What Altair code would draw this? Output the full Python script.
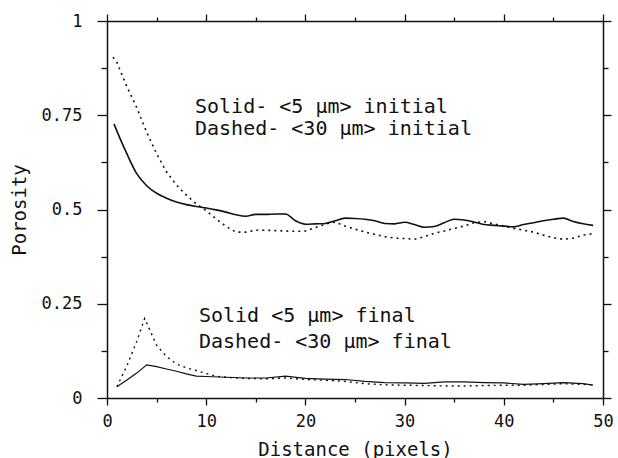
import altair as alt
import pandas as pd

# ---- data ----
solid_init_x = [0.7, 1, 2, 3, 4, 5, 6, 7, 8, 9, 10, 11, 12, 13, 14, 15, 16, 17, 18, 19, 20,
                21, 22, 23, 24, 25, 26, 27, 28, 29, 30, 31, 32, 33, 34, 35, 36, 37, 38, 39,
                40, 41, 42, 43, 44, 45, 46, 47, 48, 49]
solid_init_y = [0.727, 0.708, 0.648, 0.595, 0.563, 0.543, 0.530, 0.520, 0.513, 0.508, 0.504,
                0.499, 0.493, 0.486, 0.482, 0.487, 0.487, 0.488, 0.488, 0.470, 0.461,
                0.462, 0.463, 0.470, 0.477, 0.476, 0.474, 0.470, 0.463, 0.462, 0.466,
                0.460, 0.453, 0.455, 0.465, 0.474, 0.472, 0.467, 0.460, 0.458, 0.456,
                0.454, 0.460, 0.465, 0.470, 0.474, 0.477, 0.468, 0.462, 0.458]

dash_init_x = [0.6, 1, 2, 3, 4, 5, 6, 7, 8, 9, 10, 11, 12, 13, 14, 15, 16, 17, 18, 19, 20,
               21, 22, 23, 24, 25, 26, 27, 28, 29, 30, 31, 32, 33, 34, 35, 36, 37, 38, 39,
               40, 41, 42, 43, 44, 45, 46, 47, 48, 49]
dash_init_y = [0.904, 0.89, 0.826, 0.77, 0.705, 0.648, 0.600, 0.565, 0.538, 0.515, 0.497,
               0.475, 0.455, 0.440, 0.440, 0.445, 0.445, 0.444, 0.443, 0.442, 0.443,
               0.452, 0.461, 0.467, 0.456, 0.448, 0.440, 0.434, 0.428, 0.424, 0.423,
               0.421, 0.428, 0.437, 0.443, 0.450, 0.456, 0.465, 0.468, 0.462, 0.456,
               0.450, 0.445, 0.440, 0.432, 0.425, 0.421, 0.424, 0.432, 0.436]

solid_final_x = [1, 2, 3, 4, 5, 6, 7, 8, 9, 10, 12, 14, 16, 18, 20, 22, 24, 26, 28, 30,
                 32, 34, 36, 38, 40, 42, 44, 46, 48, 49]
solid_final_y = [0.030, 0.048, 0.066, 0.088, 0.083, 0.077, 0.071, 0.064, 0.058, 0.057,
                 0.055, 0.053, 0.053, 0.058, 0.052, 0.050, 0.049, 0.044, 0.041, 0.040,
                 0.039, 0.043, 0.043, 0.041, 0.040, 0.036, 0.038, 0.041, 0.038, 0.034]

dash_final_x = [1, 2, 3, 3.8, 5, 6, 7, 8, 9, 10, 11, 12, 14, 16, 18, 20, 22, 24, 26, 28,
                30, 32, 34, 36, 38, 40, 42, 44, 46, 48, 49]
dash_final_y = [0.030, 0.085, 0.150, 0.211, 0.140, 0.110, 0.090, 0.080, 0.073, 0.065,
                0.058, 0.055, 0.052, 0.051, 0.053, 0.049, 0.047, 0.044, 0.038, 0.035,
                0.034, 0.033, 0.032, 0.032, 0.033, 0.034, 0.034, 0.036, 0.038, 0.036, 0.035]

notes = ["Solid- <5 \u03bcm> initial", "Dashed- <30 \u03bcm> initial",
         "Solid  <5 \u03bcm> final", "Dashed- <30 \u03bcm> final"]
notes_x = [8.87, 8.87, 9.27, 9.27]
notes_y = [0.756, 0.698, 0.2016, 0.1326]

# ---- tables ----
rows = []
for name, xs, ys in [("si", solid_init_x, solid_init_y), ("di", dash_init_x, dash_init_y),
                     ("sf", solid_final_x, solid_final_y), ("df", dash_final_x, dash_final_y)]:
    for a, b in zip(xs, ys):
        rows.append({"series": name, "d": a, "p": b})
df = pd.DataFrame(rows)
tdf = pd.DataFrame({"label": notes, "d": notes_x, "p": notes_y})

FONT = "DejaVu Sans Mono"
INK = "#111111"

xscale = alt.Scale(domain=[0, 50], nice=False, zero=False)
yscale = alt.Scale(domain=[0, 1], nice=False)

xticks = list(range(0, 51, 5))
yticks = [i * 0.125 for i in range(9)]

common_axis = dict(grid=False, domainColor=INK, domainWidth=1.5, tickColor=INK,
                   tickWidth=1.3, labelFont=FONT, labelColor=INK, titleFont=FONT,
                   titleColor=INK, titleFontWeight="normal")

x_bottom = alt.Axis(values=xticks, orient="bottom", title="Distance (pixels)",
                    labelExpr="datum.value % 10 === 0 ? toString(datum.value) : ''",
                    tickSize={"condition": {"test": "datum.value % 10 !== 0", "value": 4}, "value": 7},
                    labelFontSize=17, labelPadding=8, titleFontSize=19, titlePadding=11,
                    labelFlush=False, **common_axis)
y_left = alt.Axis(values=yticks, orient="left", title="Porosity",
                  labelExpr="(datum.value * 8) % 2 === 0 ? toString(datum.value) : ''",
                  tickSize={"condition": {"test": "(datum.value * 8) % 2 !== 0", "value": 6}, "value": 10},
                  labelFontSize=17, labelPadding=15, titleFontSize=19, titlePadding=12,
                  labelFlush=False, **common_axis)
x_top = alt.Axis(values=xticks, orient="top", title=None, labels=False,
                 tickSize={"condition": {"test": "datum.value % 10 !== 0", "value": 4}, "value": 7},
                 **common_axis)
y_right = alt.Axis(values=yticks, orient="right", title=None, labels=False,
                   tickSize={"condition": {"test": "(datum.value * 8) % 2 !== 0", "value": 5}, "value": 8},
                   **common_axis)

xe = alt.X("d:Q", scale=xscale, axis=x_bottom)
ye = alt.Y("p:Q", scale=yscale, axis=y_left)

base = alt.Chart(df)
l_si = base.transform_filter("datum.series === 'si'").mark_line(color=INK, strokeWidth=1.6, interpolate="monotone").encode(x=xe, y=ye)
l_di = base.transform_filter("datum.series === 'di'").mark_line(color=INK, strokeWidth=1.6, strokeDash=[2, 4]).encode(x=xe, y=ye)
l_sf = base.transform_filter("datum.series === 'sf'").mark_line(color=INK, strokeWidth=1.2).encode(x=xe, y=ye)
l_df = base.transform_filter("datum.series === 'df'").mark_line(color=INK, strokeWidth=1.4, strokeDash=[2, 4]).encode(x=xe, y=ye)

txt = alt.Chart(tdf).mark_text(font=FONT, fontSize=20, color=INK, align="left",
                               baseline="alphabetic").encode(
    x=alt.X("d:Q", scale=xscale, axis=x_bottom),
    y=alt.Y("p:Q", scale=yscale, axis=y_left),
    text="label:N")

main = alt.layer(l_si, l_di, l_sf, l_df, txt)

frame = base.mark_point(opacity=0).encode(
    x=alt.X("d:Q", scale=xscale, axis=x_top),
    y=alt.Y("p:Q", scale=yscale, axis=y_right))

chart = alt.layer(main, frame).resolve_axis(x="independent", y="independent").properties(
    width=496, height=377,
    autosize=alt.AutoSizeParams(type="none"),
    padding={"left": 107, "top": 21, "right": 15, "bottom": 60},
    background="white",
).configure_view(stroke=None)

chart.save("out.html", embed_options={"renderer": "svg", "actions": False})
